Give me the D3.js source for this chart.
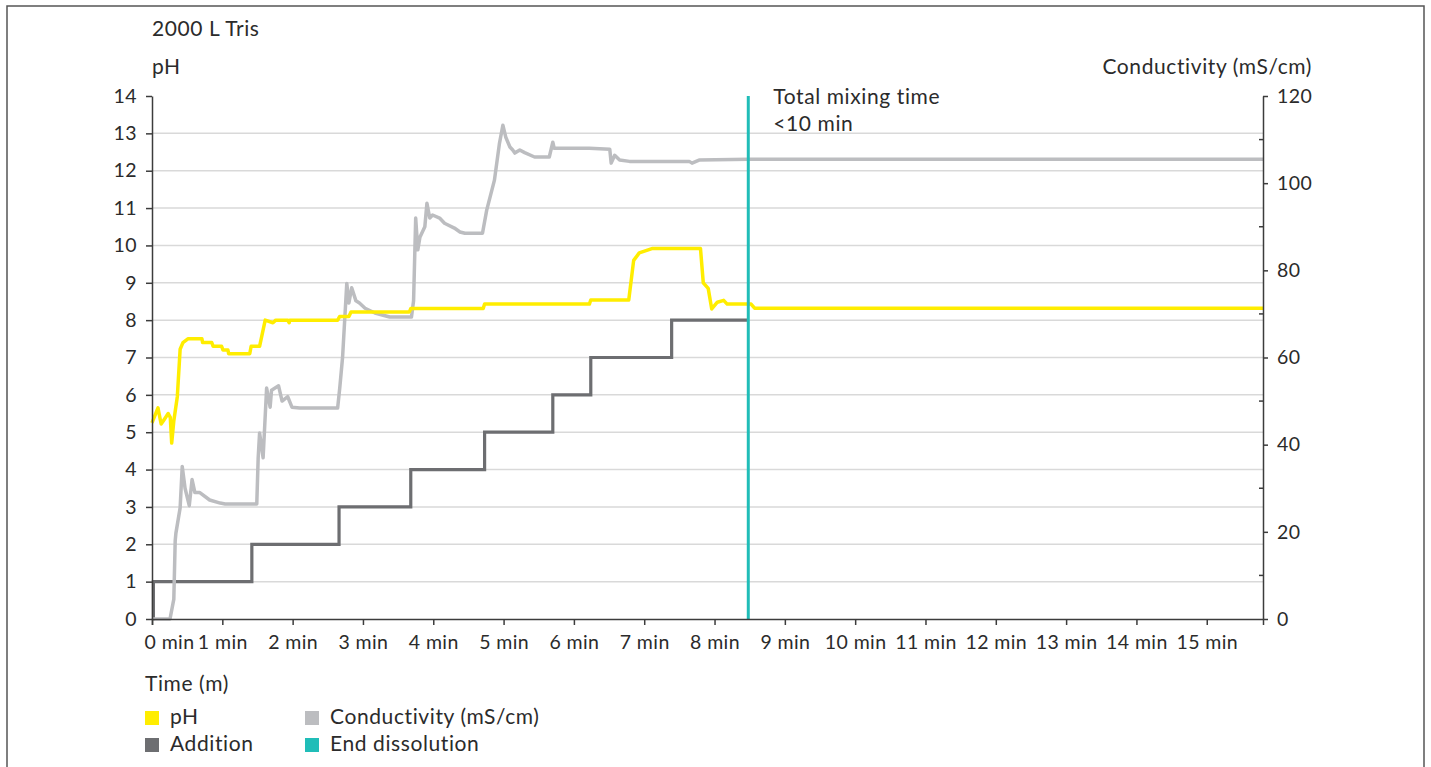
<!DOCTYPE html>
<html>
<head>
<meta charset="utf-8">
<script src="https://cdn.jsdelivr.net/npm/d3@7"></script>
<style>
  html, body { margin: 0; padding: 0; background: #fff; }
  svg { display: block; }
  text { font-family: Lato, "Open Sans", sans-serif; fill: #2b2b2b; }
  .lbl { font-size: 21px; letter-spacing: 0.6px; }
</style>
</head>
<body>
<svg id="chart" width="1431" height="767"></svg>
<script>
// ---- data ----
const title = "2000 L Tris";
const leftAxisTitle = "pH";
const rightAxisTitle = "Conductivity (mS/cm)";
const xAxisTitle = "Time (m)";
const xTickValues = [0,1,2,3,4,5,6,7,8,9,10,11,12,13,14,15];
const xTickLabels = xTickValues.map(d => d + " min");
const leftTicks = [0,1,2,3,4,5,6,7,8,9,10,11,12,13,14];
const rightTicks = [0,20,40,60,80,100,120];
const endDissolutionTime = 8.48;
const annotationLines = ["Total mixing time", "<10 min"];

// pH series [time (min), pH]
const phTime = [0,0.085,0.13,0.16,0.23,0.26,0.28,0.31,0.36,0.40,0.44,0.51,0.71,0.72,0.85,0.87,0.99,1.01,1.08,1.09,1.39,1.41,1.53,1.61,1.72,1.76,1.93,1.95,1.96,2.64,2.67,2.80,2.83,3.66,3.68,4.71,4.73,6.22,6.24,6.78,6.85,6.93,7.12,7.80,7.84,7.91,7.96,8.04,8.13,8.18,8.52,8.57,15.8];
const phValue = [5.25,5.65,5.22,5.3,5.5,5.4,4.71,5.3,5.95,7.22,7.4,7.5,7.5,7.4,7.4,7.3,7.3,7.2,7.2,7.1,7.1,7.3,7.3,8.0,7.93,8.0,8.0,7.93,8.0,8.0,8.1,8.1,8.22,8.22,8.31,8.31,8.43,8.43,8.54,8.54,9.6,9.8,9.92,9.92,9.0,8.85,8.3,8.48,8.53,8.43,8.43,8.32,8.32];

// Conductivity series [time (min), mS/cm]
const condTime = [0,0.256,0.30,0.31,0.33,0.34,0.40,0.43,0.47,0.53,0.57,0.61,0.68,0.82,0.97,1.04,1.49,1.51,1.53,1.58,1.63,1.68,1.70,1.80,1.85,1.93,1.99,2.10,2.64,2.67,2.71,2.77,2.80,2.84,2.90,2.95,3.03,3.17,3.38,3.69,3.72,3.75,3.78,3.81,3.88,3.91,3.95,3.99,4.09,4.16,4.30,4.38,4.45,4.70,4.76,4.87,4.94,4.99,5.03,5.09,5.13,5.16,5.23,5.30,5.44,5.65,5.70,5.72,6.22,6.51,6.53,6.58,6.65,6.79,7.64,7.68,7.78,8.49,15.8];
const condValue = [0,0,3.7,4.5,18,19.7,25.5,35,30,26,32,29,29,27.3,26.6,26.4,26.4,37,42.7,37,53,48.6,52.5,53.5,50,51,48.6,48.4,48.4,53,60,77,72.5,76,73,72.5,71.3,70.2,69.3,69.3,73,92,84.7,87.6,90,95.4,92,92.7,92,90.8,89.7,88.8,88.5,88.5,93.8,100.7,109,113.3,110.6,108.3,107.6,106.9,107.6,107,106,106,109.4,108,108,107.8,104.6,106.4,105.3,105,105,104.6,105.3,105.5,105.5];

// Addition (step) series [time (min), additions, on pH scale]
const addTime = [0,0.02,1.42,2.66,3.68,4.73,5.70,6.24,7.39,8.48];
const addValue = [0,1,2,3,4,5,6,7,8,8];

const legendItems = [
  {label: "pH", color: "#ffed00"},
  {label: "Conductivity (mS/cm)", color: "#bcbdc0"},
  {label: "Addition", color: "#6d6e71"},
  {label: "End dissolution", color: "#20bdb8"}
];

// ---- drawing ----
const colors = {ph: "#ffed00", cond: "#bcbdc0", add: "#6d6e71", end: "#20bdb8", axis: "#3c3c3c", grid: "#d9d9d9"};
const svg = d3.select("#chart");
const L = 152, R = 1263, T = 96, B = 619;
const tickFs = 19.5;

// frame
svg.append("rect").attr("x", 7).attr("y", 6).attr("width", 1417).attr("height", 800)
  .attr("fill", "none").attr("stroke", "#555").attr("stroke-width", 1.5);

const x = d3.scaleLinear().domain([0, 15.8]).range([L, R]);
const yL = d3.scaleLinear().domain([0, 14]).range([B, T]);
const yR = d3.scaleLinear().domain([0, 120]).range([B, T]);

// gridlines
svg.append("g").selectAll("line").data(leftTicks.filter(d => d > 0 && d < 14)).join("line")
  .attr("x1", L).attr("x2", R).attr("y1", d => yL(d)).attr("y2", d => yL(d))
  .attr("stroke", colors.grid).attr("stroke-width", 1.5);

// series
const mk = (ts, vs) => ts.map((t, i) => [t, vs[i]]);
const lineL = d3.line().x(d => x(d[0])).y(d => yL(d[1]));
const lineR = d3.line().x(d => x(d[0])).y(d => yR(d[1]));
const lineStep = d3.line().x(d => x(d[0])).y(d => yL(d[1])).curve(d3.curveStepAfter);

svg.append("path").datum(mk(addTime, addValue)).attr("d", lineStep)
  .attr("fill", "none").attr("stroke", colors.add).attr("stroke-width", 3.2);
svg.append("path").datum(mk(condTime, condValue)).attr("d", lineR)
  .attr("fill", "none").attr("stroke", colors.cond).attr("stroke-width", 3.5).attr("stroke-linejoin", "round");
svg.append("path").datum(mk(phTime, phValue)).attr("d", lineL)
  .attr("fill", "none").attr("stroke", colors.ph).attr("stroke-width", 3.5).attr("stroke-linejoin", "round");

// end dissolution line
svg.append("line").attr("x1", x(endDissolutionTime)).attr("x2", x(endDissolutionTime))
  .attr("y1", T).attr("y2", B).attr("stroke", colors.end).attr("stroke-width", 3);

// axes
function styleAxis(g) {
  g.select(".domain").attr("stroke", colors.axis).attr("stroke-width", 1.5);
  g.selectAll(".tick line").attr("stroke", colors.axis).attr("stroke-width", 1.5);
  g.selectAll(".tick text").style("font-family", "Lato, sans-serif").style("font-size", tickFs + "px")
    .style("letter-spacing", "0.4px").attr("fill", "#2b2b2b");
}
const gx = svg.append("g").attr("transform", `translate(0,${B})`)
  .call(d3.axisBottom(x).tickValues(xTickValues).tickFormat((d, i) => xTickLabels[i]).tickSize(6).tickSizeOuter(6).tickPadding(10));
styleAxis(gx);
gx.selectAll(".tick text").filter(d => d === 0).attr("dx", 17);

const gl = svg.append("g").attr("transform", `translate(${L},0)`)
  .call(d3.axisLeft(yL).tickValues(leftTicks).tickSize(6).tickSizeOuter(0).tickPadding(9));
styleAxis(gl);

const gr = svg.append("g").attr("transform", `translate(${R},0)`)
  .call(d3.axisRight(yR).tickValues(rightTicks).tickSize(5).tickSizeOuter(0).tickPadding(9));
styleAxis(gr);
// minor inner ticks on right axis
gr.selectAll(".minor").data(d3.range(10, 120, 20)).join("line").attr("class", "minor")
  .attr("x1", 0).attr("x2", -4).attr("y1", d => yR(d)).attr("y2", d => yR(d))
  .attr("stroke", colors.axis).attr("stroke-width", 1.5);

// texts
svg.append("text").attr("class", "lbl").attr("x", 152).attr("y", 36).text(title);
svg.append("text").attr("class", "lbl").attr("x", 152).attr("y", 74).text(leftAxisTitle);
svg.append("text").attr("class", "lbl").attr("x", 1312).attr("y", 74).attr("text-anchor", "end").text(rightAxisTitle);
svg.append("text").attr("class", "lbl").attr("x", 145).attr("y", 691).text(xAxisTitle);
annotationLines.forEach((s, i) => {
  svg.append("text").attr("class", "lbl").attr("x", x(endDissolutionTime) + 25).attr("y", 104 + i * 27).text(s);
});

// legend
const lg = svg.append("g");
legendItems.forEach((d, i) => {
  const col = i % 2, row = Math.floor(i / 2);
  const lx = 145 + col * 160, ly = 711 + row * 27;
  lg.append("rect").attr("x", lx).attr("y", ly).attr("width", 14).attr("height", 14).attr("fill", d.color);
  lg.append("text").attr("class", "lbl").attr("x", lx + 25).attr("y", ly + 13).text(d.label);
});
</script>
</body>
</html>
